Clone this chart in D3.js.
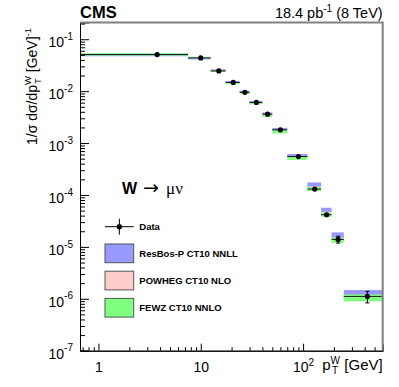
<!DOCTYPE html>
<html>
<head>
<meta charset="utf-8">
<script src="https://cdn.jsdelivr.net/npm/d3@7"></script>
<style>
  body { margin: 0; background: #fff; }
  text { font-family: "Liberation Sans", Arial, Helvetica, sans-serif; }
</style>
</head>
<body>
<svg id="chart" width="399" height="387"></svg>
<script>
// W pT bins [GeV]
const binLow  = [0, 7.5, 12.5, 17.5, 24, 30, 40, 50, 70, 110, 150, 190, 250];
const binHigh = [7.5, 12.5, 17.5, 24, 30, 40, 50, 70, 110, 150, 190, 250, 600];

// measured 1/sigma dsigma/dpT and relative errors
const dataVal = [0.0507, 0.0437, 0.0245, 0.0147, 0.0095, 0.00605, 0.0036, 0.0018, 5.5e-4, 1.30e-4, 4.16e-5, 1.39e-5, 1.11e-6];
const dataErr = [0.01, 0.01, 0.01, 0.015, 0.015, 0.02, 0.02, 0.025, 0.03, 0.04, 0.06, 0.15, 0.25];

// predictions (central value, relative half width of band)
const resbosVal = [0.0500, 0.0425, 0.0252, 0.0151, 0.0098, 0.0062, 0.0037, 0.00185, 5.7e-4, 1.60e-4, 5.2e-5, 1.70e-5, 1.28e-6];
const resbosErr = [0.06, 0.04, 0.04, 0.04, 0.04, 0.04, 0.05, 0.06, 0.08, 0.09, 0.09, 0.12, 0.15];
const powhegVal = [0.0507, 0.0435, 0.0248, 0.0146, 0.0095, 0.0060, 0.00352, 0.00175, 5.4e-4, 1.45e-4, 4.7e-5, 1.52e-5, 1.16e-6];
const powhegErr = [0.01, 0.01, 0.01, 0.02, 0.02, 0.02, 0.02, 0.03, 0.03, 0.04, 0.04, 0.05, 0.06];
const fewzVal   = [0.0510, 0.0445, 0.0243, 0.0142, 0.0092, 0.0058, 0.00335, 0.00165, 5.15e-4, 1.31e-4, 4.2e-5, 1.35e-5, 1.05e-6];
const fewzErr   = [0.05, 0.03, 0.03, 0.04, 0.04, 0.04, 0.05, 0.07, 0.08, 0.09, 0.09, 0.12, 0.15];

const yMajor = [1e-7, 1e-6, 1e-5, 1e-4, 1e-3, 1e-2, 1e-1];
const yExp   = ["-7", "-6", "-5", "-4", "-3", "-2", "-1"];
const xMajor = [1, 10, 100];
const xLabel = [["1", ""], ["10", ""], ["10", "2"]];

const legendItems = [
    {name: "ResBos-P CT10 NNLL", color: "#9999ff"},
    {name: "POWHEG CT10 NLO",    color: "#ffcccc"},
    {name: "FEWZ CT10 NNLO",     color: "#80ff80"}
];

const frame = {left: 80, right: 382.7, top: 22.5, bottom: 350.7};

const svg = d3.select("#chart");

const x = d3.scaleLog().domain([0.66, 600]).range([frame.left, frame.right]);
const y = d3.scaleLog().domain([1e-7, 0.21]).range([frame.bottom, frame.top]);

const xLo = i => x(Math.max(binLow[i], x.domain()[0]));
const xHi = i => x(binHigh[i]);

// bands
const drawBand = (vals, errs, color) => {
    svg.append("g").selectAll("rect")
        .data(vals)
        .enter()
        .append("rect")
        .attr("x", (d, i) => xLo(i))
        .attr("width", (d, i) => xHi(i) - xLo(i))
        .attr("y", (d, i) => y(d * (1 + errs[i])))
        .attr("height", (d, i) => y(d * (1 - errs[i])) - y(d * (1 + errs[i])))
        .attr("fill", color);
}

drawBand(powhegVal, powhegErr, legendItems[1].color);
drawBand(resbosVal, resbosErr, legendItems[0].color);
drawBand(fewzVal, fewzErr, legendItems[2].color);

// data points
const pts = svg.append("g").selectAll("g")
    .data(dataVal)
    .enter()
    .append("g");

pts.append("line")
    .attr("x1", (d, i) => xLo(i))
    .attr("x2", (d, i) => xHi(i))
    .attr("y1", d => y(d))
    .attr("y2", d => y(d))
    .attr("stroke", "#1a1a1a")
    .attr("stroke-width", 1);

const center = i => x((binLow[i] + binHigh[i]) / 2);

pts.each(function(d, i) {
    const cx = center(i);
    const top = y(d * (1 + dataErr[i]));
    const bot = y(d * (1 - dataErr[i]));
    if (bot - top < 6) return;
    const g = d3.select(this);
    g.append("line").attr("x1", cx).attr("x2", cx).attr("y1", top).attr("y2", bot)
        .attr("stroke", "#000").attr("stroke-width", 1);
    [top, bot].forEach(yy => {
        g.append("line").attr("x1", cx - 2).attr("x2", cx + 2).attr("y1", yy).attr("y2", yy)
            .attr("stroke", "#000").attr("stroke-width", 1);
    });
});

pts.append("circle")
    .attr("cx", (d, i) => center(i))
    .attr("cy", d => y(d))
    .attr("r", 2.6)
    .attr("fill", "#000");

// y axis
const yMinor = y.ticks(60).filter(v => !yMajor.some(m => Math.abs(v / m - 1) < 1e-6));

const yAxisG = svg.append("g").attr("transform", `translate(${frame.left},0)`);
yAxisG.call(d3.axisLeft(y).tickValues(yMinor).tickSize(-5).tickFormat(""));
const yMajG = svg.append("g").attr("transform", `translate(${frame.left},0)`);
yMajG.call(d3.axisLeft(y).tickValues(yMajor).tickSize(-9).tickPadding(7).tickFormat(() => "10"));
yMajG.selectAll(".tick text")
    .attr("font-family", "Liberation Sans, Arial, sans-serif")
    .attr("font-size", 14)
    .attr("fill", "#000")
    .attr("dy", "0.55em")
    .append("tspan")
    .attr("font-size", 10)
    .attr("dy", "-0.75em")
    .text((d, i) => yExp[i]);
[yAxisG, yMajG].forEach(g => {
    g.selectAll(".tick line").attr("stroke", "#000");
    g.select(".domain").attr("stroke", "#000");
});

// x axis
const xMinor = x.ticks(40).filter(v => !xMajor.some(m => Math.abs(v / m - 1) < 1e-6));
const xAxisG = svg.append("g").attr("transform", `translate(0,${frame.bottom})`);
xAxisG.call(d3.axisBottom(x).tickValues(xMinor).tickSize(-3.5).tickFormat(""));
const xMajG = svg.append("g").attr("transform", `translate(0,${frame.bottom})`);
xMajG.call(d3.axisBottom(x).tickValues(xMajor).tickSize(-7).tickPadding(11).tickFormat((d, i) => xLabel[i][0]));
xMajG.selectAll(".tick text")
    .attr("font-family", "Liberation Sans, Arial, sans-serif")
    .attr("font-size", 14)
    .attr("fill", "#000")
    .append("tspan")
    .attr("font-size", 10)
    .attr("dy", "-0.55em")
    .text((d, i) => xLabel[i][1]);
[xAxisG, xMajG].forEach(g => {
    g.selectAll(".tick line").attr("stroke", "#000");
    g.select(".domain").attr("stroke", "#000");
});

// top and right frame
svg.append("path")
    .attr("d", `M${frame.left},${frame.top}H${frame.right}V${frame.bottom}`)
    .attr("fill", "none")
    .attr("stroke", "#808080")
    .attr("stroke-width", 2);

// axis titles
const yTitle = svg.append("text")
    .attr("transform", "translate(37,28) rotate(-90)")
    .attr("text-anchor", "end")
    .attr("font-size", 14)
    .attr("fill", "#000");
yTitle.append("tspan").text("1/σ dσ/dp");
yTitle.append("tspan").attr("font-size", 9.5).attr("dy", -6).text("W");
yTitle.append("tspan").attr("font-size", 9.5).attr("dx", -8).attr("dy", 10).text("T");
yTitle.append("tspan").attr("dx", 2).attr("dy", -4).text(" [GeV]");
yTitle.append("tspan").attr("font-size", 9.5).attr("dy", -6).text("-1");

const xTitle = svg.append("text")
    .attr("x", frame.right)
    .attr("y", 370)
    .attr("text-anchor", "end")
    .attr("font-size", 15)
    .attr("fill", "#000");
xTitle.append("tspan").text("p");
xTitle.append("tspan").attr("font-size", 10).attr("dy", -6).text("W");
xTitle.append("tspan").attr("font-size", 10).attr("dx", -8).attr("dy", 10).text("T");
xTitle.append("tspan").attr("dx", 2).attr("dy", -4).text(" [GeV]");

// header
svg.append("text")
    .attr("x", frame.left)
    .attr("y", 17.5)
    .attr("font-size", 16.5)
    .attr("font-weight", "bold")
    .text("CMS");

const lumi = svg.append("text")
    .attr("x", frame.right)
    .attr("y", 18)
    .attr("text-anchor", "end")
    .attr("font-size", 14.5);
lumi.append("tspan").text("18.4 pb");
lumi.append("tspan").attr("font-size", 10).attr("dy", -6).text("-1");
lumi.append("tspan").attr("dy", 6).text(" (8 TeV)");

// process label
const proc = svg.append("text").attr("x", 122).attr("y", 194);
proc.append("tspan").attr("font-size", 16).attr("font-weight", "bold").text("W");
proc.append("tspan").attr("font-size", 19).attr("dx", 6)
    .attr("font-family", "DejaVu Sans, sans-serif").text("→");
proc.append("tspan").attr("font-size", 17).attr("dx", 7)
    .attr("font-family", "Liberation Serif, Times New Roman, serif").text("μν");

// legend
const legX = 105, legW = 28.7, legH = 18.7;
const dataRowY = 226.7;
const legend = svg.append("g");
legend.append("line").attr("x1", legX).attr("x2", legX + legW).attr("y1", dataRowY).attr("y2", dataRowY)
    .attr("stroke", "#000");
legend.append("line").attr("x1", legX + legW / 2).attr("x2", legX + legW / 2)
    .attr("y1", dataRowY - 8).attr("y2", dataRowY + 8).attr("stroke", "#000");
legend.append("circle").attr("cx", legX + legW / 2).attr("cy", dataRowY).attr("r", 2.6).attr("fill", "#000");
legend.append("text").attr("x", 139.3).attr("y", dataRowY + 3.5)
    .attr("font-size", 9.5).attr("font-weight", "bold").text("Data");

const rows = legend.selectAll(".legRow")
    .data(legendItems)
    .enter()
    .append("g")
    .attr("class", "legRow")
    .attr("transform", (d, i) => `translate(0,${244 + i * 27.2})`);
rows.append("rect")
    .attr("x", legX).attr("y", 0).attr("width", legW).attr("height", legH)
    .attr("fill", d => d.color)
    .attr("stroke", "#555").attr("stroke-width", 1);
rows.append("text")
    .attr("x", 139.3).attr("y", legH / 2 + 3.5)
    .attr("font-size", 9.5).attr("font-weight", "bold")
    .text(d => d.name);
</script>
</body>
</html>
